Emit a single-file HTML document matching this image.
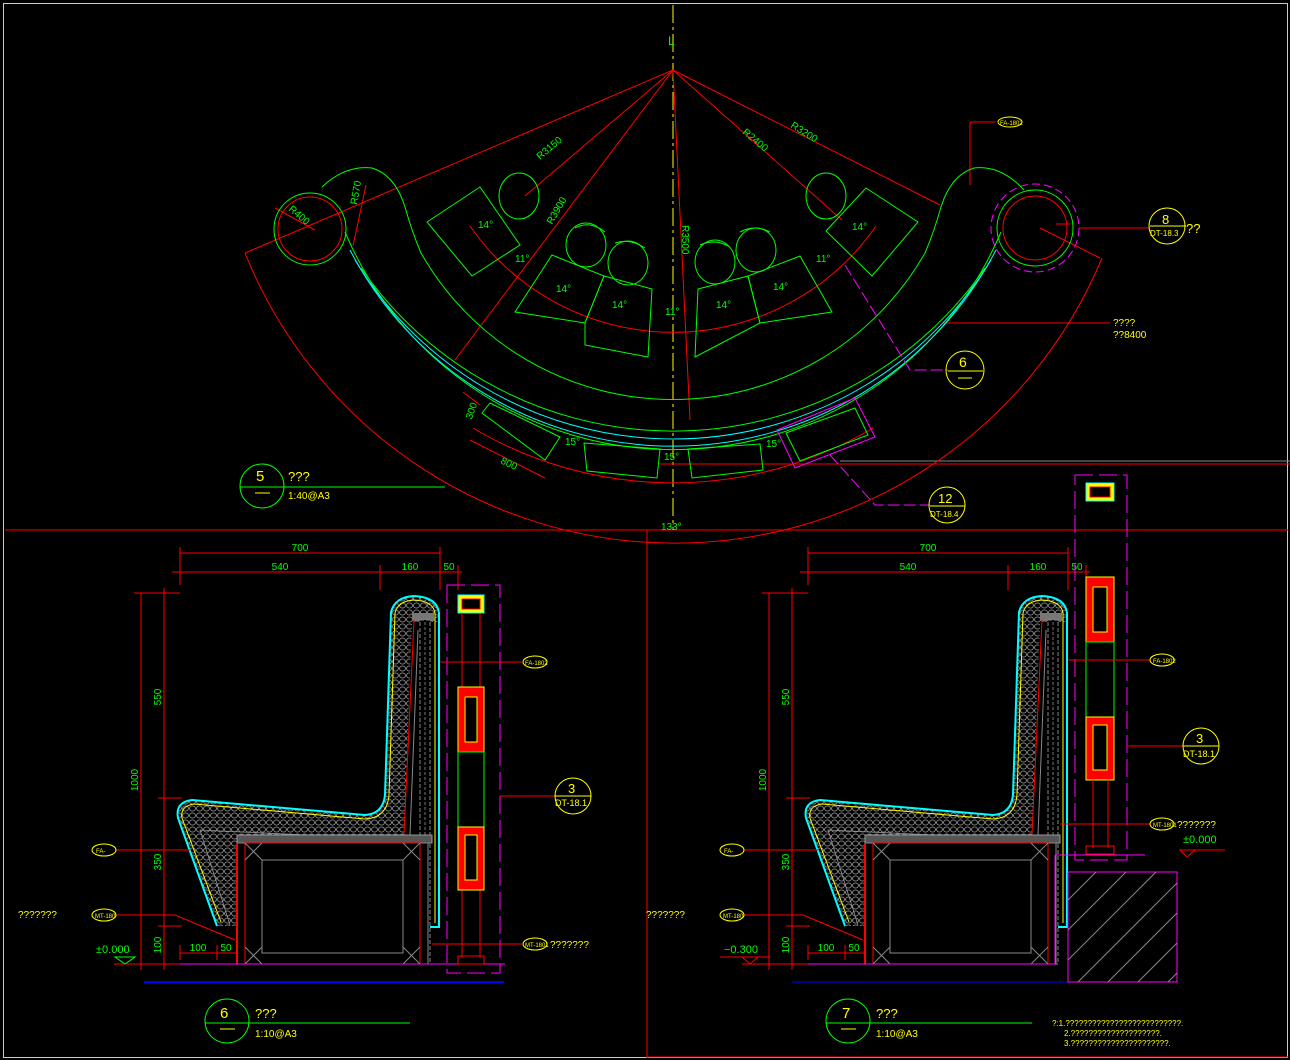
<!DOCTYPE html>
<html><head><meta charset="utf-8"><style>
html,body{margin:0;padding:0;background:#000;}
svg{display:block;}
text{font-family:"Liberation Sans",sans-serif;}
</style></head><body>
<svg width="1290" height="1060" viewBox="0 0 1290 1060" xmlns="http://www.w3.org/2000/svg" fill="none">
<defs>
<pattern id="mesh" width="7" height="7" patternUnits="userSpaceOnUse">
  <rect width="7" height="7" fill="#000"/>
  <ellipse cx="3.5" cy="3.5" rx="3" ry="2.6" stroke="#888" stroke-width="0.9" fill="none"/>
</pattern>
<g id="sofa">
  <g stroke="#f00" stroke-width="1">
    <line x1="180" y1="553" x2="440" y2="553"/><line x1="172" y1="572" x2="462" y2="572"/>
    <line x1="180" y1="547" x2="180" y2="585"/><line x1="380" y1="565" x2="380" y2="590"/><line x1="440" y1="547" x2="440" y2="590"/><line x1="458" y1="565" x2="458" y2="590"/>
    <line x1="141" y1="593" x2="141" y2="970"/><line x1="164" y1="588" x2="164" y2="970"/>
    <line x1="134" y1="593" x2="180" y2="593"/><line x1="158" y1="798" x2="182" y2="798"/><line x1="158" y1="926" x2="182" y2="926"/>
    <line x1="114" y1="964" x2="240" y2="964"/>
    <line x1="180" y1="953" x2="240" y2="953"/><line x1="180" y1="945" x2="180" y2="960"/><line x1="217" y1="945" x2="217" y2="960"/>
  </g>
  <g fill="#0f0" font-size="10">
    <text x="300" y="551" text-anchor="middle">700</text>
    <text x="280" y="570" text-anchor="middle">540</text>
    <text x="410" y="570" text-anchor="middle">160</text>
    <text x="449" y="570" text-anchor="middle">50</text>
    <text x="138" y="780" transform="rotate(-90 138 780)" text-anchor="middle">1000</text>
    <text x="161" y="697" transform="rotate(-90 161 697)" text-anchor="middle">550</text>
    <text x="161" y="862" transform="rotate(-90 161 862)" text-anchor="middle">350</text>
    <text x="161" y="945" transform="rotate(-90 161 945)" text-anchor="middle">100</text>
    <text x="198" y="951" text-anchor="middle">100</text>
    <text x="226" y="951" text-anchor="middle">50</text>
  </g>
  <path d="M217,926 L178,818 Q175,802 192,800 L365,815 Q383,814 385,795 L391,612 Q395,597 414,596 Q437,597 439,613 L439,622 L412,622 L404,835 L237,835 L237,926 Z" fill="url(#mesh)"/>
  <path d="M217,926 L178,818 Q175,802 192,800 L365,815 Q383,814 385,795 L391,612 Q395,597 414,596 Q437,597 439,613 L439,927 L428,927" stroke="#0ff" stroke-width="2"/>
  <path d="M221,922 L182,818 Q180,806 194,804 L365,819 Q387,818 389,795 L395,613 Q398,601 414,600 Q433,601 435,613 L435,923" stroke="#ff0" stroke-width="1"/>
  <path d="M230,925 L200,830 L370,838" stroke="#999" stroke-width="0.8"/>
  <rect x="412" y="613" width="22" height="8" fill="#777"/>
  <rect x="420" y="620" width="10" height="344" fill="#000" stroke="#888" stroke-dasharray="4 2"/>
  <line x1="425" y1="622" x2="425" y2="964" stroke="#777" stroke-dasharray="3 2"/>
  <line x1="414" y1="620" x2="404" y2="835" stroke="#f00"/>
  <line x1="418" y1="630" x2="410" y2="835" stroke="#888"/>
  <rect x="237" y="835" width="195" height="8" fill="#555" stroke="#999"/>
  <rect x="237" y="843" width="191" height="121" fill="#000" stroke="#888"/>
  <rect x="245" y="843" width="175" height="121" stroke="#f00"/>
  <rect x="262" y="860" width="141" height="93" stroke="#888"/>
  <line x1="237" y1="843" x2="237" y2="964" stroke="#f00" stroke-width="2"/>
  <line x1="245" y1="860" x2="262" y2="843" stroke="#888"/><line x1="245" y1="843" x2="262" y2="860" stroke="#888"/>
  <line x1="403" y1="860" x2="420" y2="843" stroke="#888"/><line x1="403" y1="843" x2="420" y2="860" stroke="#888"/>
  <line x1="245" y1="964" x2="262" y2="947" stroke="#888"/><line x1="245" y1="947" x2="262" y2="964" stroke="#888"/>
  <line x1="403" y1="964" x2="420" y2="947" stroke="#888"/><line x1="403" y1="947" x2="420" y2="964" stroke="#888"/>
  <g stroke="#f00">
    <line x1="115" y1="850" x2="190" y2="850"/>
    <line x1="115" y1="915" x2="175" y2="915"/><line x1="175" y1="915" x2="235" y2="940"/>
  </g>
  <ellipse cx="104" cy="850" rx="12" ry="6" stroke="#ff0"/>
  <ellipse cx="104" cy="915" rx="12" ry="6" stroke="#ff0"/>
  <text x="96" y="853" fill="#ff0" font-size="6">FA-</text>
  <text x="95" y="918" fill="#ff0" font-size="6">MT-180</text>
</g>
</defs>

<rect x="3.5" y="3.5" width="1284" height="1054" stroke="#ccc"/>
<line x1="5" y1="530" x2="1288" y2="530" stroke="#f00"/>
<line x1="647" y1="530" x2="647" y2="1058" stroke="#f00"/>
<line x1="647" y1="1057" x2="1288" y2="1057" stroke="#f00"/>
<line x1="840" y1="461" x2="1290" y2="461" stroke="#888"/>

<line x1="673" y1="5" x2="673" y2="530" stroke="#ff0" stroke-dasharray="18 4 3 4"/>
<path d="M245,253 A463,463 0 0 0 1102,258" stroke="#f00"/>
<g stroke="#f00">
  <line x1="673" y1="70" x2="245" y2="253"/>
  <line x1="673" y1="70" x2="455" y2="360"/>
  <line x1="673" y1="70" x2="940" y2="205"/>
  <line x1="673" y1="70" x2="842" y2="220"/>
  <line x1="673" y1="70" x2="525" y2="196"/>
  <line x1="673" y1="70" x2="690" y2="420"/>
  <line x1="1040" y1="228" x2="1100" y2="258"/>
  <line x1="315" y1="230" x2="275" y2="208"/>
  <line x1="353" y1="246" x2="366" y2="185"/>
  <path d="M470,226 A247,247 0 0 0 876,226"/>
  <path d="M473,428 A392,392 0 0 0 873,428"/>
  <line x1="943" y1="323" x2="1110" y2="323"/>
  <line x1="1079" y1="228" x2="1150" y2="228"/>
  <line x1="970" y1="122" x2="995" y2="122"/><line x1="970" y1="122" x2="970" y2="185"/>
  <line x1="660" y1="464" x2="1290" y2="464"/>
  <line x1="463" y1="392" x2="480" y2="405"/><line x1="470" y1="440" x2="545" y2="478"/>
  <line x1="1056" y1="224" x2="1070" y2="224"/>
</g>
<circle cx="310" cy="229" r="36" stroke="#0f0"/>
<circle cx="310" cy="229" r="32" stroke="#f00"/>
<circle cx="1035" cy="228" r="38" stroke="#0f0"/>
<circle cx="1035" cy="228" r="32" stroke="#f00"/>
<circle cx="1035" cy="228" r="44" stroke="#f0f" stroke-dasharray="8 4"/>
<path d="M322,187 Q345,165 372,168 Q395,175 405,207 Q412,232 421,253 A290,290 0 0 0 925,253 Q934,232 941,207 Q951,175 974,168 Q1001,165 1024,190" stroke="#0f0"/>
<path d="M345,232 A356,356 0 0 0 1001,232" stroke="#0f0"/>
<path d="M350,250 A364,364 0 0 0 996,250" stroke="#0ff"/>
<path d="M355,260 A372,372 0 0 0 991,260" stroke="#0ff"/>
<path d="M361,268 A380,380 0 0 0 985,268" stroke="#0f0"/>
<g stroke="#0f0">
  <polygon points="427,222 480,187 520,245 472,276"/>
  <polygon points="515,312 552,255 604,276 585,323"/>
  <polygon points="585,323 604,276 652,289 648,357 585,345"/>
  <polygon points="698,289 748,276 760,323 695,357"/>
  <polygon points="760,323 748,276 800,256 832,312"/>
  <polygon points="826,231 866,188 918,222 872,276"/>
  <polygon points="482,413 490,403 560,437 545,460"/>
  <polygon points="584,443 660,449 657,478 587,471"/>
  <polygon points="688,449 760,444 763,470 692,478"/>
  <polygon points="786,433 855,408 868,435 800,461"/>
  <ellipse cx="519" cy="196" rx="20" ry="23"/><ellipse cx="586" cy="245" rx="20" ry="22"/><ellipse cx="628" cy="263" rx="20" ry="22"/>
  <ellipse cx="715" cy="262" rx="20" ry="22"/><ellipse cx="756" cy="250" rx="20" ry="22"/><ellipse cx="826" cy="196" rx="20" ry="23"/>
  <path d="M575,228 Q590,220 605,232"/><path d="M615,243 Q630,238 645,248"/>
  <path d="M700,245 Q715,238 730,247"/><path d="M740,232 Q755,224 770,232"/>
</g>
<polygon points="777,430 855,398 875,437 795,468" stroke="#f0f"/>
<path d="M845,265 L910,370 L948,370" stroke="#f0f" stroke-dasharray="12 4"/>
<path d="M830,455 L875,505 L930,505" stroke="#f0f" stroke-dasharray="12 4"/>
<g fill="#0f0" font-size="10">
  <text x="540" y="160" transform="rotate(-40 540 160)">R3150</text>
  <text x="552" y="225" transform="rotate(-60 552 225)">R3900</text>
  <text x="742" y="133" transform="rotate(40 742 133)">R2400</text>
  <text x="790" y="127" transform="rotate(32 790 127)">R3200</text>
  <text x="682" y="225" transform="rotate(90 682 225)">R3500</text>
  <text x="288" y="210" transform="rotate(40 288 210)">R400</text>
  <text x="357" y="205" transform="rotate(-80 357 205)">R570</text>
  <text x="478" y="228">14°</text><text x="515" y="262">11°</text><text x="556" y="292">14°</text>
  <text x="612" y="308">14°</text><text x="665" y="315">11°</text><text x="716" y="308">14°</text>
  <text x="773" y="290">14°</text><text x="816" y="262">11°</text><text x="852" y="230">14°</text>
  <text x="462" y="418" transform="rotate(-70 468 412)">300</text>
  <text x="500" y="463" transform="rotate(25 500 463)">800</text>
  <text x="565" y="445">15°</text><text x="664" y="460">15°</text><text x="766" y="447">15°</text>
  <text x="661" y="530">133°</text>
</g>
<text x="668" y="45" fill="#0f0" font-size="12">L</text>
<circle cx="262" cy="486" r="22" stroke="#0f0"/>
<line x1="240" y1="487" x2="445" y2="487" stroke="#0f0"/>
<text x="256" y="481" fill="#ff0" font-size="15">5</text>
<line x1="255" y1="493" x2="270" y2="493" stroke="#ff0"/>
<text x="288" y="481" fill="#ff0" font-size="13">???</text>
<text x="288" y="499" fill="#ff0" font-size="10">1:40@A3</text>
<circle cx="965" cy="370" r="19" stroke="#ff0"/>
<text x="959" y="367" fill="#ff0" font-size="14">6</text><line x1="948" y1="371" x2="983" y2="371" stroke="#ff0"/><line x1="958" y1="378" x2="972" y2="378" stroke="#ff0"/>
<circle cx="947" cy="505" r="18" stroke="#ff0"/>
<text x="938" y="503" fill="#ff0" font-size="13">12</text><line x1="930" y1="506" x2="965" y2="506" stroke="#ff0"/>
<text x="930" y="517" fill="#ff0" font-size="8">DT-18.4</text>
<circle cx="1167" cy="226" r="18" stroke="#ff0"/>
<text x="1162" y="224" fill="#ff0" font-size="13">8</text><line x1="1150" y1="226" x2="1186" y2="226" stroke="#ff0"/>
<text x="1150" y="236" fill="#ff0" font-size="8">DT-18.3</text>
<text x="1186" y="233" fill="#ff0" font-size="13">??</text>
<ellipse cx="1010" cy="122" rx="12" ry="5" stroke="#ff0"/><text x="1000" y="125" fill="#ff0" font-size="6">FA-1802</text>
<text x="1113" y="326" fill="#ff0" font-size="10">????</text>
<text x="1113" y="338" fill="#ff0" font-size="10">??8400</text>

<use href="#sofa"/>
<use href="#sofa" transform="translate(628,0)"/>

<line x1="144" y1="982" x2="504" y2="982" stroke="#00f" stroke-width="2"/>
<line x1="180" y1="964" x2="505" y2="964" stroke="#f0f"/>
<rect x="447" y="585" width="53" height="388" stroke="#f0f" stroke-dasharray="18 6"/>
<rect x="458" y="595" width="26" height="18" fill="#ff0" stroke="#0ff"/><rect x="462" y="599" width="18" height="10" fill="#000" stroke="#f00"/>
<line x1="462" y1="613" x2="462" y2="958" stroke="#f00"/><line x1="480" y1="613" x2="480" y2="958" stroke="#f00"/>
<rect x="458" y="687" width="26" height="65" fill="#f00" stroke="#ff0"/><rect x="465" y="697" width="12" height="45" fill="#000" stroke="#ff0"/>
<rect x="458" y="752" width="26" height="75" fill="#000" stroke="#0f0"/>
<rect x="458" y="827" width="26" height="63" fill="#f00" stroke="#ff0"/><rect x="465" y="835" width="12" height="45" fill="#000" stroke="#ff0"/>
<rect x="458" y="956" width="26" height="8" stroke="#f00"/>
<g stroke="#f00"><line x1="440" y1="662" x2="522" y2="662"/><line x1="500" y1="796" x2="555" y2="796"/><line x1="432" y1="944" x2="522" y2="944"/></g>
<ellipse cx="535" cy="662" rx="12" ry="6" stroke="#ff0"/><text x="525" y="665" fill="#ff0" font-size="6">FA-1802</text>
<ellipse cx="535" cy="944" rx="12" ry="6" stroke="#ff0"/><text x="525" y="947" fill="#ff0" font-size="6">MT-1801</text>
<text x="550" y="948" fill="#ff0" font-size="10">???????</text>
<circle cx="573" cy="796" r="18" stroke="#ff0"/><line x1="555" y1="796" x2="591" y2="796" stroke="#ff0"/>
<text x="568" y="793" fill="#ff0" font-size="13">3</text><text x="555" y="806" fill="#ff0" font-size="9">DT-18.1</text>
<text x="18" y="918" fill="#ff0" font-size="10">???????</text>
<text x="96" y="953" fill="#0f0" font-size="11">±0.000</text>
<path d="M115,957 L135,957 L125,964 Z" stroke="#0f0"/>
<circle cx="227" cy="1021" r="22" stroke="#0f0"/>
<line x1="205" y1="1023" x2="410" y2="1023" stroke="#0f0"/>
<text x="220" y="1018" fill="#ff0" font-size="15">6</text><line x1="220" y1="1029" x2="235" y2="1029" stroke="#ff0"/>
<text x="255" y="1018" fill="#ff0" font-size="13">???</text>
<text x="255" y="1037" fill="#ff0" font-size="10">1:10@A3</text>

<line x1="792" y1="982" x2="1177" y2="982" stroke="#00f"/>
<line x1="808" y1="964" x2="1055" y2="964" stroke="#f0f"/>
<line x1="1055" y1="855" x2="1055" y2="964" stroke="#f0f"/>
<line x1="1055" y1="855" x2="1145" y2="855" stroke="#f0f"/>
<rect x="1068" y="872" width="109" height="110" stroke="#f0f"/>
<g stroke="#888">
<line x1="1068" y1="900" x2="1096" y2="872"/><line x1="1068" y1="930" x2="1126" y2="872"/><line x1="1068" y1="960" x2="1156" y2="872"/>
<line x1="1078" y1="982" x2="1177" y2="883"/><line x1="1108" y1="982" x2="1177" y2="913"/><line x1="1138" y1="982" x2="1177" y2="943"/>
<line x1="1168" y1="982" x2="1177" y2="973"/>
</g>
<rect x="1075" y="475" width="52" height="385" stroke="#f0f" stroke-dasharray="18 6"/>
<rect x="1086" y="483" width="28" height="18" fill="#ff0" stroke="#0ff"/><rect x="1090" y="487" width="20" height="10" fill="#000" stroke="#f00"/>
<rect x="1086" y="577" width="28" height="65" fill="#f00" stroke="#ff0"/><rect x="1093" y="587" width="14" height="45" fill="#000" stroke="#ff0"/>
<rect x="1086" y="642" width="28" height="75" fill="#000" stroke="#0f0"/>
<rect x="1086" y="717" width="28" height="63" fill="#f00" stroke="#ff0"/><rect x="1093" y="725" width="14" height="45" fill="#000" stroke="#ff0"/>
<line x1="1093" y1="780" x2="1093" y2="848" stroke="#f00"/><line x1="1108" y1="780" x2="1108" y2="848" stroke="#f00"/>
<rect x="1086" y="846" width="28" height="8" stroke="#f00"/>
<g stroke="#f00"><line x1="1068" y1="660" x2="1150" y2="660"/><line x1="1127" y1="746" x2="1183" y2="746"/><line x1="1060" y1="824" x2="1150" y2="824"/><line x1="1180" y1="850" x2="1225" y2="850"/></g>
<ellipse cx="1162" cy="660" rx="12" ry="6" stroke="#ff0"/><text x="1153" y="663" fill="#ff0" font-size="6">FA-1802</text>
<ellipse cx="1162" cy="824" rx="12" ry="6" stroke="#ff0"/><text x="1153" y="827" fill="#ff0" font-size="6">MT-1801</text>
<text x="1177" y="828" fill="#ff0" font-size="10">???????</text>
<text x="1183" y="843" fill="#0f0" font-size="11">±0.000</text>
<path d="M1180,850 L1195,850 L1187,857 Z" stroke="#f00"/>
<circle cx="1201" cy="746" r="18" stroke="#ff0"/><line x1="1183" y1="746" x2="1219" y2="746" stroke="#ff0"/>
<text x="1196" y="743" fill="#ff0" font-size="13">3</text><text x="1183" y="757" fill="#ff0" font-size="9">DT-18.1</text>
<text x="646" y="918" fill="#ff0" font-size="10">???????</text>
<text x="724" y="953" fill="#0f0" font-size="11">−0.300</text>
<line x1="720" y1="957" x2="770" y2="957" stroke="#f00"/>
<path d="M742,957 L758,957 L750,964 Z" stroke="#f00"/>
<circle cx="848" cy="1021" r="22" stroke="#0f0"/>
<line x1="826" y1="1023" x2="1032" y2="1023" stroke="#0f0"/>
<text x="842" y="1018" fill="#ff0" font-size="15">7</text><line x1="841" y1="1029" x2="856" y2="1029" stroke="#ff0"/>
<text x="876" y="1018" fill="#ff0" font-size="13">???</text>
<text x="876" y="1037" fill="#ff0" font-size="10">1:10@A3</text>
<g fill="#ff0" font-size="8">
<text x="1052" y="1026">?:1.??????????????????????????.</text>
<text x="1064" y="1036">2.????????????????????.</text>
<text x="1064" y="1046">3.??????????????????????.</text>
</g>
</svg>
</body></html>
